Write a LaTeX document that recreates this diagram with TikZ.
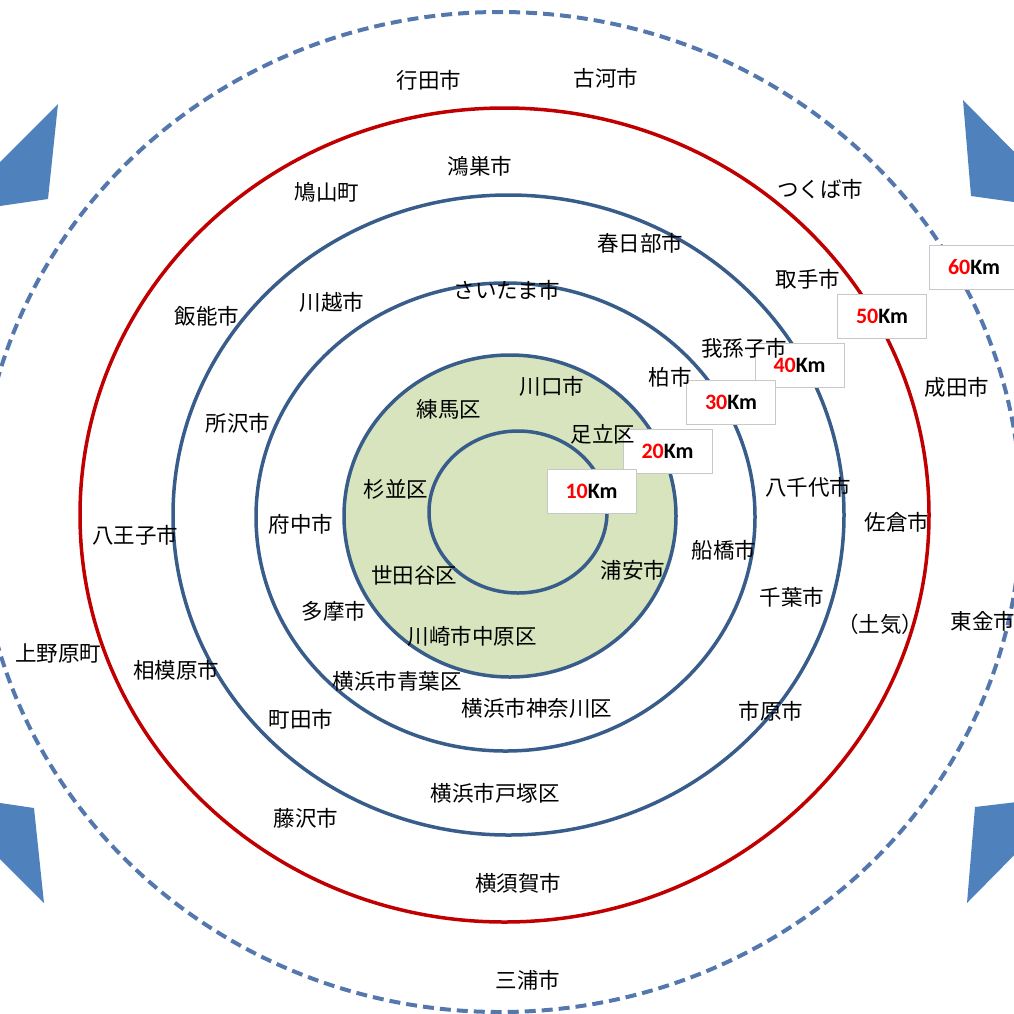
\documentclass[tikz,border=0pt]{standalone}
\usepackage{fontspec}
\newfontfamily\jpfont{Noto Sans CJK JP}
\newfontfamily\kmfont{Carlito}
\definecolor{ringblue}{HTML}{385D8A}
\definecolor{ringred}{HTML}{C00000}
\definecolor{dashblue}{HTML}{5478AE}
\definecolor{arrowblue}{HTML}{4F81BD}
\definecolor{zonegreen}{HTML}{D7E4BD}
\definecolor{boxgray}{HTML}{C8C8C8}
\definecolor{kmred}{HTML}{FF0000}
\tikzset{
  ring/.style={draw=ringblue, line width=3.5pt},
  redring/.style={draw=ringred, line width=3.5pt},
  outerring/.style={draw=dashblue, line width=4pt, dash pattern=on 11pt off 6pt},
  corner/.style={fill=arrowblue, draw=none},
  lbl/.style={font=\jpfont\fontsize{21.5}{22}\selectfont, inner sep=0pt, text=black},
  kmbox/.style={draw=boxgray, fill=white, line width=0.8pt, inner sep=0pt,
    minimum width=89pt, minimum height=44pt,
    font=\kmfont\bfseries\fontsize{22}{22}\selectfont}
}
\newcommand{\kmlab}[1]{\textcolor{kmred}{#1}Km}
\begin{document}
\begin{tikzpicture}[x=1pt,y=-1pt]
\useasboundingbox (0,0) rectangle (1014,1013);
\clip (0,0) rectangle (1014,1013);
% corner arrowheads
\fill[corner] (58,104) -- (-20,182) -- (-20,209) -- (0,206) -- (48,199) -- cycle;
\fill[corner] (963,100) -- (1034,172) -- (1034,205) -- (1014,202) -- (971,196) -- cycle;
\fill[corner] (-20,800) -- (34,808) -- (44,903) -- (-20,839) -- cycle;
\fill[corner] (1034,800) -- (975,807) -- (967,903) -- (1034,835) -- cycle;
% rings
\draw[outerring] (500,512) ellipse [x radius=521pt, y radius=500pt];
\draw[redring] (504.5,515) ellipse [x radius=424.5pt, y radius=407pt];
\draw[ring] (508.5,515) ellipse [x radius=335.5pt, y radius=320pt];
\draw[ring] (505.5,517) ellipse [x radius=249.5pt, y radius=234pt];
\fill[zonegreen] (510,516) ellipse [x radius=166pt, y radius=161pt];
\draw[ring] (510,516) ellipse [x radius=166pt, y radius=161pt];
\draw[ring] (518,512) ellipse [x radius=89pt, y radius=81pt];
% distance boxes
\node[kmbox] (k60) at (974,267) {\kmlab{60}};
\node[kmbox] (k50) at (882,316) {\kmlab{50}};
\node[kmbox] (k40) at (799.5,365) {\kmlab{40}};
\node[kmbox] (k30) at (731,402.5) {\kmlab{30}};
\node[kmbox] (k20) at (667.5,451.5) {\kmlab{20}};
\node[kmbox] (k10) at (591.5,491.5) {\kmlab{10}};
% place names
\node[lbl] (gyoda) at (429,80) {行田市};
\node[lbl] (koga) at (606,78) {古河市};
\node[lbl] (konosu) at (480,166) {鴻巣市};
\node[lbl] (tsukuba) at (820,189) {つくば市};
\node[lbl] (hatoyama) at (327,192) {鳩山町};
\node[lbl] (kasukabe) at (640,243) {春日部市};
\node[lbl] (toride) at (808,279) {取手市};
\node[lbl] (saitama) at (507,290) {さいたま市};
\node[lbl] (kawagoe) at (332,302) {川越市};
\node[lbl] (hanno) at (207,316) {飯能市};
\node[lbl] (abiko) at (744,348) {我孫子市};
\node[lbl] (kashiwa) at (670,377) {柏市};
\node[lbl] (narita) at (957,387) {成田市};
\node[lbl] (kawaguchi) at (552,386) {川口市};
\node[lbl] (nerima) at (449,409) {練馬区};
\node[lbl] (tokorozawa) at (238,423) {所沢市};
\node[lbl] (adachi) at (603,434) {足立区};
\node[lbl] (suginami) at (396,489) {杉並区};
\node[lbl] (yachiyo) at (808,487) {八千代市};
\node[lbl] (sakura) at (897,522) {佐倉市};
\node[lbl] (fuchu) at (301,524) {府中市};
\node[lbl] (hachioji) at (135,535) {八王子市};
\node[lbl] (funabashi) at (724,550) {船橋市};
\node[lbl] (urayasu) at (633,570) {浦安市};
\node[lbl] (setagaya) at (414,575) {世田谷区};
\node[lbl] (chiba) at (792,597) {千葉市};
\node[lbl] (tama) at (334,611) {多摩市};
\node[lbl] (toke) at (880,624) {（土気）};
\node[lbl] (togane) at (983,621) {東金市};
\node[lbl] (uenohara) at (58,653) {上野原町};
\node[lbl] (nakahara) at (472,636) {川崎市中原区};
\node[lbl] (sagamihara) at (176,670) {相模原市};
\node[lbl] (aoba) at (397,681) {横浜市青葉区};
\node[lbl] (kanagawa) at (537,708) {横浜市神奈川区};
\node[lbl] (ichihara) at (771,711) {市原市};
\node[lbl] (machida) at (301,719) {町田市};
\node[lbl] (totsuka) at (495,793) {横浜市戸塚区};
\node[lbl] (fujisawa) at (306,818) {藤沢市};
\node[lbl] (yokosuka) at (518,883) {横須賀市};
\node[lbl] (miura) at (528,980) {三浦市};
\end{tikzpicture}
\end{document}
